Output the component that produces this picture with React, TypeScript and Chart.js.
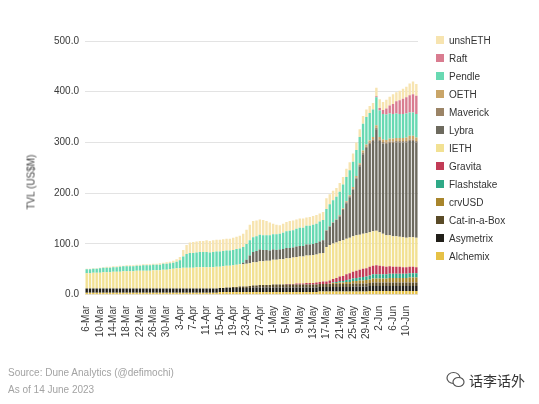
import React, { useEffect, useRef } from "react";
import { Chart, registerables } from "chart.js";

Chart.register(...registerables);

const dates: string[] = [
  "6-Mar","7-Mar","8-Mar","9-Mar","10-Mar","11-Mar","12-Mar","13-Mar","14-Mar","15-Mar",
  "16-Mar","17-Mar","18-Mar","19-Mar","20-Mar","21-Mar","22-Mar","23-Mar","24-Mar","25-Mar",
  "26-Mar","27-Mar","28-Mar","29-Mar","30-Mar","31-Mar","1-Apr","2-Apr","3-Apr","4-Apr",
  "5-Apr","6-Apr","7-Apr","8-Apr","9-Apr","10-Apr","11-Apr","12-Apr","13-Apr","14-Apr",
  "15-Apr","16-Apr","17-Apr","18-Apr","19-Apr","20-Apr","21-Apr","22-Apr","23-Apr","24-Apr",
  "25-Apr","26-Apr","27-Apr","28-Apr","29-Apr","30-Apr","1-May","2-May","3-May","4-May",
  "5-May","6-May","7-May","8-May","9-May","10-May","11-May","12-May","13-May","14-May",
  "15-May","16-May","17-May","18-May","19-May","20-May","21-May","22-May","23-May","24-May",
  "25-May","26-May","27-May","28-May","29-May","30-May","31-May","1-Jun","2-Jun","3-Jun",
  "4-Jun","5-Jun","6-Jun","7-Jun","8-Jun","9-Jun","10-Jun","11-Jun","12-Jun","13-Jun",
];

const alchemix = [
  4,4,4,4,4,4,4,4,4,4, 4,4,4,4,4,4,4,4,4,4, 4,4,4,4,4,4,4,4,4,4, 4,4,4,4,4,4,4,4,4,4,
  5,5,5,5,5,5,5,5,5,5, 5,5,5,5,5,5,5,5,5,5, 5,5,5,5,5,5,5,5,5,5, 6,6,6,6,6,6,6,6,6,6,
  6,6,6,6,6,7,7,7,7,7, 7,7,7,7,7,7,7,7,7,7,
];
const asymetrix = [
  8,8,8,8,8,8,8,8,8,8, 8,8,8,8,8,8,8,8,8,8, 8,8,8,8,8,8,8,8,8,8, 8,8,8,8,8,8,8,8,8,8,
  8,8,8,8,8,8,8,8,8,8, 9,9,9,9,9,9,9,9,9,9, 9,9,9,9,9,9,9,9,9,9, 9,9,9,9,9,9,9,9,9,9,
  10,10,10,10,10,10,10,10,10,10, 10,10,10,10,10,10,10,10,10,10,
];
const catInABox = [
  0,0,0,0,0,0,0,0,0,0, 0,0,0,0,0,0,0,0,0,0, 0,0,0,0,0,0,0,0,0,0, 0,0,0,0,0,0,0,0,0,0,
  0,0,1,1,2,2,3,3,3,4, 4,4,5,5,5,5,6,6,6,6, 6,6,6,6,6,6,6,6,6,6, 6,6,6,6,6,6,6,6,6,6,
  6,6,6,6,6,6,7,7,7,7, 7,7,7,7,7,7,7,7,7,7,
];
const crvUSD = [
  0,0,0,0,0,0,0,0,0,0, 0,0,0,0,0,0,0,0,0,0, 0,0,0,0,0,0,0,0,0,0, 0,0,0,0,0,0,0,0,0,0,
  0,0,0,0,0,0,0,0,0,0, 0,0,0,0,0,0,0,0,0,0, 0,0,0,0,0,0,0,0,0,0, 0,0,0,1,2,2,3,3,4,4,
  5,5,6,6,7,7,8,8,8,8, 8,9,9,9,9,9,9,10,10,10,
];
const flashstake = [
  0,0,0,0,0,0,0,0,0,0, 0,0,0,0,0,0,0,0,0,0, 0,0,0,0,0,0,0,0,0,0, 0,0,0,0,0,0,0,0,0,0,
  0,0,0,0,0,0,0,0,0,0, 0,0,0,0,0,0,0,0,0,0, 0,0,0,0,0,0,0,0,0,0, 0,0,0,0,1,2,3,3,4,5,
  5,6,6,7,7,8,8,8,8,8, 8,8,8,8,8,8,8,8,8,8,
];
const gravita = [
  0,0,0,0,0,0,0,0,0,0, 0,0,0,0,0,0,0,0,0,0, 0,0,0,0,0,0,0,0,0,0, 0,0,0,0,0,0,0,0,0,0,
  0,0,0,0,0,0,0,0,0,0, 0,0,0,0,0,0,0,0,0,0, 1,1,1,2,2,2,3,3,3,4, 4,5,5,6,7,8,9,10,11,12,
  13,14,15,16,16,17,17,18,17,16, 15,15,14,14,14,13,13,13,13,12,
];
const ieth = [
  30,30,31,31,31,32,32,32,33,33, 33,34,34,34,34,35,35,35,35,35, 36,36,36,37,37,38,39,40,40,41,
  41,41,41,42,42,42,42,42,42,43, 42,43,43,43,43,44,44,44,45,45, 46,46,47,47,48,48,49,49,50,50,
  51,51,52,52,53,53,54,54,55,55, 56,56,68,70,70,70,70,70,70,70, 70,70,69,69,69,68,68,68,66,64,
  62,61,60,60,59,59,58,58,58,58,
];
const lybra = [
  0,0,0,0,0,0,0,0,0,0, 0,0,0,0,0,0,0,0,0,0, 0,0,0,0,0,0,0,0,0,0, 0,0,0,0,0,0,0,0,0,0,
  0,0,0,0,0,0,0,3,8,15, 20,22,23,22,21,20,20,19,19,20, 20,20,20,21,21,21,22,22,22,23,
  24,25,32,36,40,44,48,60,70,80, 92,112,135,157,168,174,178,200,180,178,
  180,182,184,185,186,187,188,190,190,188,
];
const maverick = [
  0,0,0,0,0,0,0,0,0,0, 0,0,0,0,0,0,0,0,0,0, 0,0,0,0,0,0,0,0,0,0, 0,0,0,0,0,0,0,0,0,0,
  0,0,0,0,0,0,0,0,0,0, 0,0,0,0,0,0,0,0,0,0, 0,0,0,0,0,0,0,0,0,0, 0,0,1,1,1,1,2,2,2,2,
  2,2,3,3,3,3,3,3,3,3, 3,3,3,3,3,3,3,3,3,3,
];
const oeth = [
  0,0,0,0,0,0,0,0,0,0, 0,0,0,0,0,0,0,0,0,0, 0,0,0,0,0,0,0,0,0,0, 0,0,0,0,0,0,0,0,0,0,
  0,0,0,0,0,0,0,0,0,0, 0,0,0,0,0,0,0,0,0,0, 0,0,0,0,0,0,0,0,0,0, 0,0,0,0,0,0,1,1,2,2,
  3,3,3,4,4,4,5,5,5,5, 5,6,6,6,6,6,7,7,7,7,
];
const pendle = [
  8,8,8,8,9,9,9,9,9,9, 10,10,10,10,10,10,10,11,11,11, 11,11,11,12,12,12,12,13,16,22,
  27,29,29,29,30,30,30,29,30,30, 30,30,30,30,30,31,31,31,31,30, 29,29,29,29,29,30,30,31,31,32,
  33,34,34,35,36,36,37,37,38,38, 39,40,42,43,44,45,46,47,48,49, 50,51,52,53,54,54,54,55,52,50,
  50,49,48,48,47,47,47,46,46,46,
];
const raft = [
  0,0,0,0,0,0,0,0,0,0, 0,0,0,0,0,0,0,0,0,0, 0,0,0,0,0,0,0,0,0,0, 0,0,0,0,0,0,0,0,0,0,
  0,0,0,0,0,0,0,0,0,0, 0,0,0,0,0,0,0,0,0,0, 0,0,0,0,0,0,0,0,0,0, 0,0,0,0,0,0,0,0,0,0,
  0,0,0,0,0,0,0,2,5,8, 12,16,20,24,27,30,32,34,36,36,
];
const unshETH = [
  1,1,1,1,1,1,2,2,2,2, 2,1,2,2,2,2,2,2,2,2, 2,2,3,2,3,3,4,5,6,13,
  18,21,22,22,22,22,23,23,23,23, 23,23,23,23,24,24,25,26,28,31, 32,31,30,30,28,25,21,19,17,18,
  18,19,19,18,18,18,16,17,17,17, 16,16,21,20,19,17,17,15,16,16, 16,15,15,15,15,14,13,17,17,16,
  17,17,19,18,19,20,21,23,25,23,
];

const seriesNames = [
  "Alchemix", "Asymetrix", "Cat-in-a-Box", "crvUSD", "Flashstake", "Gravita", "IETH",
  "Lybra", "Maverick", "OETH", "Pendle", "Raft", "unshETH",
];
const seriesColors = [
  "#e6c146", "#211f19", "#5a4b27", "#a8852c", "#2fa987", "#c23b56", "#f2e193",
  "#6d6a5e", "#9b8466", "#c9a568", "#68d9b2", "#d97c90", "#f7e4b0",
];
const seriesData = [
  alchemix, asymetrix, catInABox, crvUSD, flashstake, gravita, ieth,
  lybra, maverick, oeth, pendle, raft, unshETH,
];

const FONT = "'Liberation Sans', Arial, Helvetica, sans-serif";

export default function App() {
  const ref = useRef<HTMLCanvasElement>(null);

  useEffect(() => {
    const chart = new Chart(ref.current as HTMLCanvasElement, {
      type: "bar",
      data: {
        labels: dates,
        datasets: seriesNames.map((name, i) => ({
          label: name,
          data: seriesData[i],
          backgroundColor: seriesColors[i],
          borderWidth: 0,
          barPercentage: 0.72,
          categoryPercentage: 1,
        })),
      },
      options: {
        animation: false,
        responsive: false,
        layout: { padding: { left: 48, right: 121, top: 41, bottom: 62 } },
        plugins: { legend: { display: false }, tooltip: { enabled: false } },
        scales: {
          x: {
            stacked: true,
            grid: { display: false },
            border: { display: false },
            ticks: {
              autoSkip: false,
              minRotation: 90,
              maxRotation: 90,
              padding: 3,
              color: "#3a3a3a",
              font: { family: FONT, size: 10 },
              callback: (_v: any, i: number) => (i % 4 === 0 ? dates[i] : ""),
            },
          },
          y: {
            stacked: true,
            min: 0,
            max: 500,
            grid: { color: "#e3e3e3", drawTicks: false },
            border: { display: false },
            ticks: {
              stepSize: 100,
              padding: 6,
              color: "#3a3a3a",
              font: { family: FONT, size: 10 },
              callback: (v: any) => Number(v).toFixed(1),
            },
          },
        },
      },
    });
    return () => chart.destroy();
  }, []);

  const legendItems = seriesNames.map((n, i) => ({ n, c: seriesColors[i] })).reverse();

  return (
    <div style={{ position: "absolute", left: 0, top: 0, width: 539, height: 404, background: "#fff", fontFamily: FONT, overflow: "hidden" }}>
      <canvas ref={ref} width={539} height={404} style={{ position: "absolute", left: 0, top: 0 }} />
      <div style={{ position: "absolute", left: 31, top: 182, transform: "translate(-50%, -50%) rotate(-90deg)", fontSize: 10, color: "#444", whiteSpace: "nowrap" }}>
        TVL (US$M)
      </div>
      {legendItems.map((it, k) => (
        <div key={it.n} style={{ position: "absolute", left: 436, top: 40 + k * 18 - 6, height: 12, display: "flex", alignItems: "center", fontSize: 10, color: "#333", whiteSpace: "nowrap" }}>
          <span style={{ display: "inline-block", width: 8, height: 8, background: it.c, marginRight: 5 }} />
          {it.n}
        </div>
      ))}
      <div style={{ position: "absolute", left: 8, top: 367, fontSize: 10, color: "#a3a3a3", whiteSpace: "nowrap" }}>
        Source: Dune Analytics (@defimochi)
      </div>
      <div style={{ position: "absolute", left: 8, top: 384, fontSize: 10, color: "#a3a3a3", whiteSpace: "nowrap" }}>
        As of 14 June 2023
      </div>
      <svg width={20} height={18} viewBox="0 0 20 18" style={{ position: "absolute", left: 446, top: 371 }}>
        <ellipse cx={7.5} cy={7} rx={6.5} ry={5.5} fill="#fff" stroke="#555" strokeWidth={1.2} />
        <ellipse cx={12.5} cy={11} rx={5.5} ry={4.5} fill="#fff" stroke="#555" strokeWidth={1.2} />
      </svg>
      <div style={{ position: "absolute", left: 469, top: 371, fontSize: 14, color: "#333", fontFamily: "'Noto Sans CJK SC', sans-serif", whiteSpace: "nowrap", lineHeight: "18px" }}>
        话李话外
      </div>
    </div>
  );
}
